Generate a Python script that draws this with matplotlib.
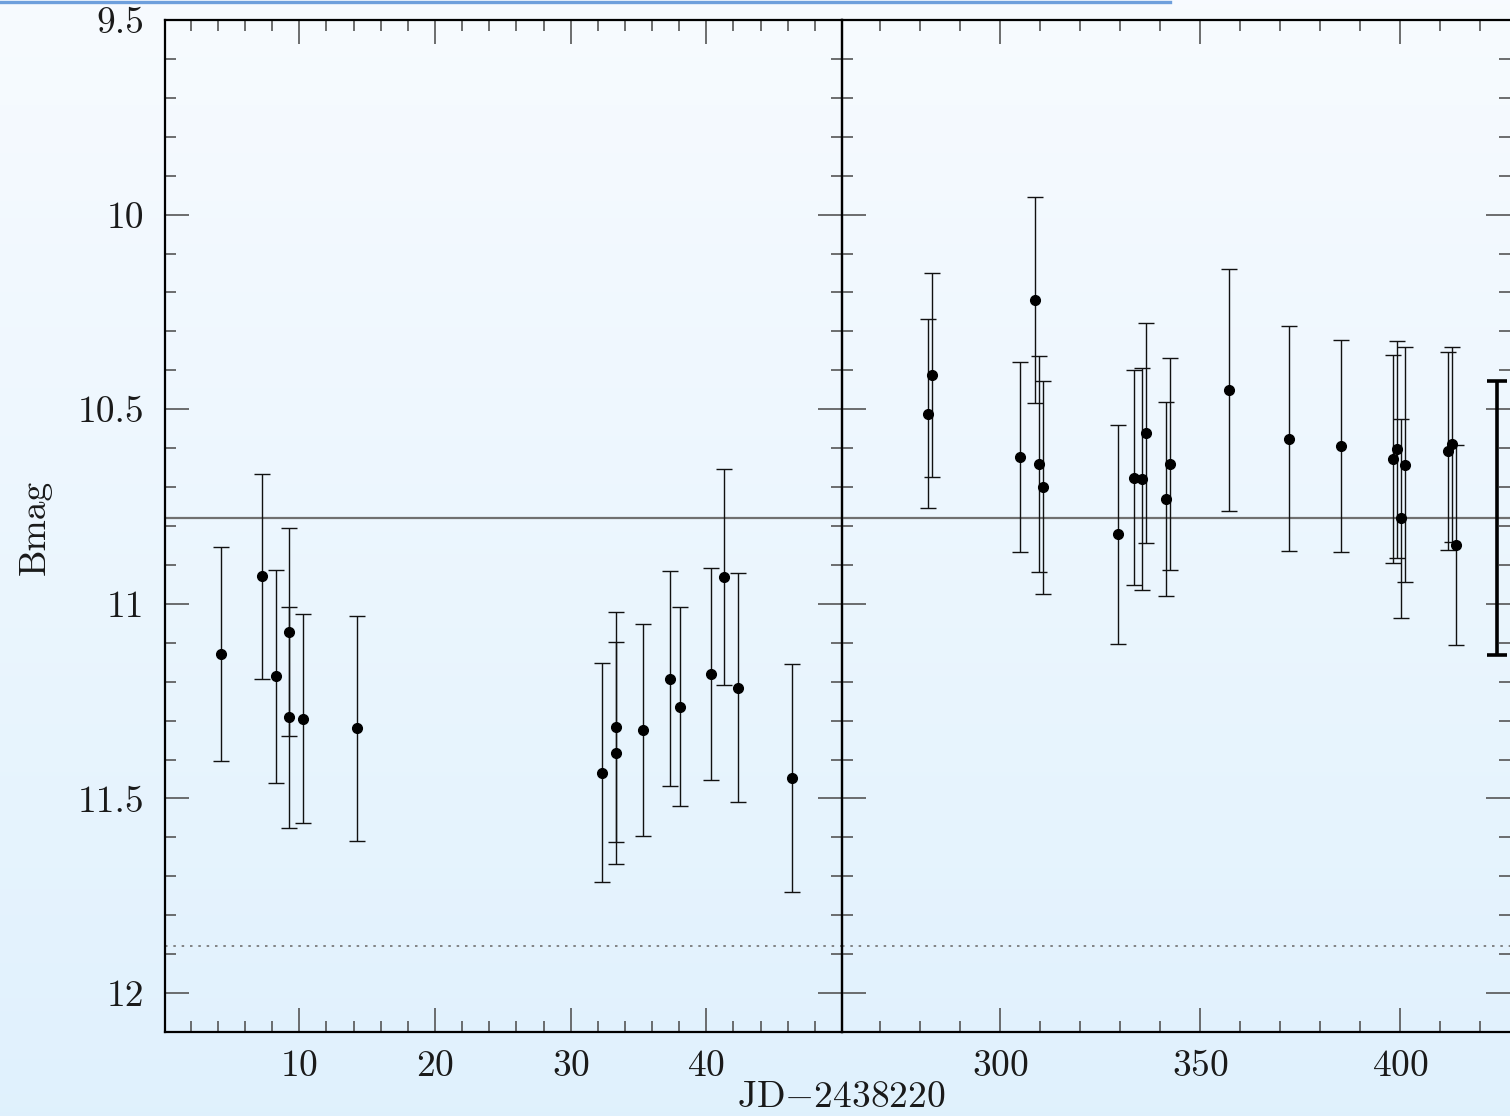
import numpy as np
import matplotlib
matplotlib.use('Agg')
import matplotlib.pyplot as plt
from matplotlib.lines import Line2D
from matplotlib.ticker import MultipleLocator, FixedLocator, FuncFormatter

plt.rcParams['font.family'] = ['cmr10', 'DejaVu Serif']
plt.rcParams['mathtext.fontset'] = 'cm'
plt.rcParams['axes.formatter.use_mathtext'] = True

# early season (JD-2438220, left panel)
jd_a = [4.21, 7.24, 8.27, 9.22, 9.22, 10.24, 14.23, 32.28, 33.31, 33.31,
        35.30, 37.31, 38.05, 40.31, 41.33, 42.32, 46.34]
mag_a = [11.130, 10.929, 11.186, 11.073, 11.291, 11.295, 11.320, 11.434, 11.383, 11.316,
         11.325, 11.192, 11.264, 11.180, 10.931, 11.215, 11.448]
err_a = [0.275, 0.263, 0.273, 0.267, 0.284, 0.269, 0.289, 0.281, 0.285, 0.296,
         0.272, 0.277, 0.256, 0.273, 0.278, 0.294, 0.293]

# later season (right panel)
jd_b = [281.9, 282.9, 304.9, 308.8, 309.8, 310.8, 329.5, 333.4, 335.4, 336.4, 341.4,
        342.4, 357.3, 372.3, 385.3, 398.3, 399.2, 400.3, 401.3, 411.9, 412.9, 413.9]
mag_b = [10.512, 10.413, 10.623, 10.219, 10.640, 10.701, 10.821, 10.676, 10.679, 10.561, 10.730,
         10.640, 10.450, 10.576, 10.595, 10.628, 10.603, 10.780, 10.643, 10.607, 10.590, 10.849]
err_b = [0.243, 0.262, 0.244, 0.265, 0.278, 0.274, 0.281, 0.276, 0.285, 0.282, 0.249,
         0.272, 0.311, 0.289, 0.272, 0.267, 0.278, 0.256, 0.302, 0.255, 0.250, 0.256]

mean_mag = 10.78
limit_mag = 11.88
typ_jd = 424.3
typ_err = 0.352

txt_col = '#1a1a1a'
fs = 27

fig = plt.figure(figsize=(15.10, 11.16), dpi=100)

# background gradient
bg = fig.add_axes([0, 0, 1, 1], zorder=-10)
grad = np.linspace(0, 1, 256).reshape(-1, 1)
top = np.array([0.969, 0.984, 1.0])
bot = np.array([0.878, 0.945, 0.992])
img = top[None, None, :] * (1 - grad[:, :, None]) + bot[None, None, :] * grad[:, :, None]
bg.imshow(img, aspect='auto', extent=[0, 1, 0, 1], origin='upper')
bg.set_axis_off()

fig.add_artist(Line2D([0, 1170 / 1510], [1 - 1.5 / 1116] * 2, color='#6e9fdc', lw=2.4,
                      transform=fig.transFigure))

y0 = 1 - 1032 / 1116
h = (1032 - 20) / 1116
ax1 = fig.add_axes([165 / 1510, y0, (842 - 165) / 1510, h])
ax2 = fig.add_axes([842 / 1510, y0, (1510 - 842) / 1510, h])

for ax in (ax1, ax2):
    ax.set_facecolor('none')
    ax.set_ylim(12.1, 9.5)
    ax.yaxis.set_major_locator(MultipleLocator(0.5))
    ax.yaxis.set_minor_locator(MultipleLocator(0.1))
    ax.tick_params(which='both', direction='in', top=True, right=True,
                   color='#555555', width=1.2, labelcolor=txt_col)
    ax.tick_params(which='major', length=17, labelsize=fs, pad=13)
    ax.tick_params(which='minor', length=8)
    for s in ax.spines.values():
        s.set_linewidth(1.6)
        s.set_color('black')
    ax.axhline(mean_mag, color='#707070', lw=1.6, zorder=1)
    ax.axhline(limit_mag, color='#707070', lw=1.2, ls=(0, (1.5, 3.5)), zorder=1)

ax1.set_xlim(0.1, 50)
ax1.xaxis.set_major_locator(FixedLocator([10, 20, 30, 40]))
ax1.xaxis.set_minor_locator(FixedLocator(np.arange(2, 50, 2)))
ax1.yaxis.set_major_formatter(FuncFormatter(lambda v, p: '%g' % v))
ax1.tick_params(axis='y', pad=15)

ax2.set_xlim(260.5, 427.5)
ax2.xaxis.set_major_locator(FixedLocator([300, 350, 400]))
ax2.xaxis.set_minor_locator(FixedLocator(np.arange(270, 430, 10)))
ax2.tick_params(axis='y', labelleft=False)
ax2.spines['right'].set_visible(False)

ax1.errorbar(jd_a, mag_a, yerr=err_a, fmt='o', color='black', ms=7, ecolor='#111111',
             elinewidth=1.0, capsize=6, capthick=1.0, zorder=3)
ax2.errorbar(jd_b, mag_b, yerr=err_b, fmt='o', color='black', ms=7, ecolor='#111111',
             elinewidth=1.0, capsize=6, capthick=1.0, zorder=3)
ax2.errorbar([typ_jd], [mean_mag], yerr=[typ_err], fmt='none', ecolor='black',
             elinewidth=2.6, capsize=7, capthick=2.6, zorder=3, clip_on=False)

fig.text(35 / 1510, 1 - 527 / 1116, 'Bmag', rotation=90, fontsize=fs,
         ha='center', va='center', color=txt_col)
fig.text(841 / 1510, 1 - 1097 / 1116, r'$\mathrm{JD{-}2438220}$', fontsize=fs,
         ha='center', va='center', color=txt_col)

fig.savefig('out.png', dpi=100)
